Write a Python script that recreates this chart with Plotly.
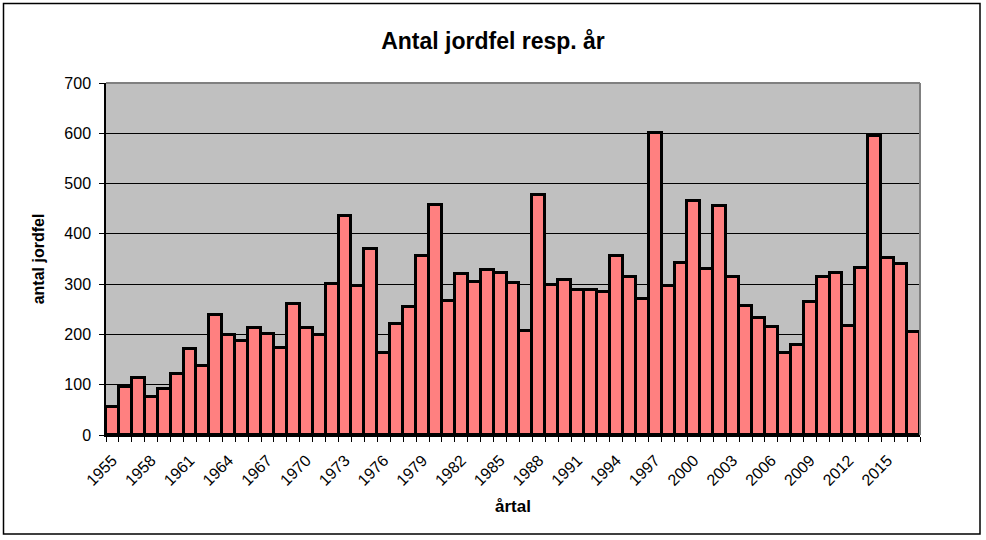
import plotly.graph_objects as go

years = list(range(1955, 2018))
faults = [55, 96, 113, 76, 91, 121, 171, 137, 239, 199,
          187, 213, 201, 173, 261, 213, 198, 300, 436, 296,
          370, 163, 221, 255, 356, 457, 267, 320, 305, 328,
          322, 303, 206, 477, 299, 309, 289, 289, 284, 356,
          314, 271, 601, 296, 342, 465, 330, 455, 314, 256,
          233, 214, 163, 179, 265, 314, 322, 217, 332, 594,
          352, 340, 204]
label_years = list(range(1955, 2018, 3))

title_text = "Antal jordfel resp. år"
x_title = "årtal"
y_title = "antal jordfel"

font = "Liberation Sans, Arial, sans-serif"

fig = go.Figure()
fig.add_trace(go.Bar(
    x=years, y=faults,
    marker=dict(color="#FF8080", line=dict(color="black", width=3)),
    showlegend=False,
))

L, R, T, B = 106, 920, 83, 435
W, H = R - L, B - T
def px(x):
    return (x - L) / W
def py(y):
    return (B - y) / H

shapes = [
    dict(type="line", xref="paper", yref="paper", x0=0, x1=1, y0=1, y1=1,
         line=dict(color="#808080", width=2)),
    dict(type="line", xref="paper", yref="paper", x0=1, x1=1, y0=0, y1=1,
         line=dict(color="#808080", width=2)),
    dict(type="rect", xref="paper", yref="paper",
         x0=px(3.5), x1=px(980), y0=py(534), y1=py(3.5),
         line=dict(color="black", width=1.5), fillcolor="rgba(0,0,0,0)"),
]

fig.update_layout(
    width=986, height=540,
    margin=dict(l=L, r=986 - R, t=T, b=540 - B, autoexpand=False),
    paper_bgcolor="white",
    plot_bgcolor="#C0C0C0",
    bargap=0,
    font=dict(family=font, size=16, color="black"),
    title=dict(text="<b>" + title_text + "</b>", x=0.5, xanchor="center",
               y=1 - 41 / 540, yanchor="middle",
               font=dict(size=23, family=font, color="black")),
    shapes=shapes,
    xaxis=dict(
        range=[1954.5, 2017.5],
        tickmode="array", tickvals=label_years,
        ticktext=[str(y) for y in label_years],
        tickangle=-45, ticks="", showgrid=False, zeroline=False,
        showline=True, linecolor="black", linewidth=1.5,
        tickfont=dict(size=16, family=font),
        ticklabelstandoff=8,
        minor=dict(ticks="outside", tick0=1954.5, dtick=1, ticklen=5,
                   tickcolor="black", tickwidth=1, showgrid=False),
        title=dict(text="<b>" + x_title + "</b>", standoff=12,
                   font=dict(size=17, family=font)),
    ),
    yaxis=dict(
        range=[0, 700], dtick=100, tick0=0,
        showgrid=True, gridcolor="black", gridwidth=1,
        zeroline=False, showline=True, linecolor="black", linewidth=1.5,
        ticks="outside", ticklen=5, tickcolor="black",
        tickfont=dict(size=16, family=font),
        ticklabelstandoff=5,
        title=dict(text="<b>" + y_title + "</b>", standoff=16,
                   font=dict(size=16, family=font)),
    ),
)

fig.write_html("out.html",
               config={"displayModeBar": False},
               post_script="document.body.style.margin='0';document.body.style.overflow='hidden';")
